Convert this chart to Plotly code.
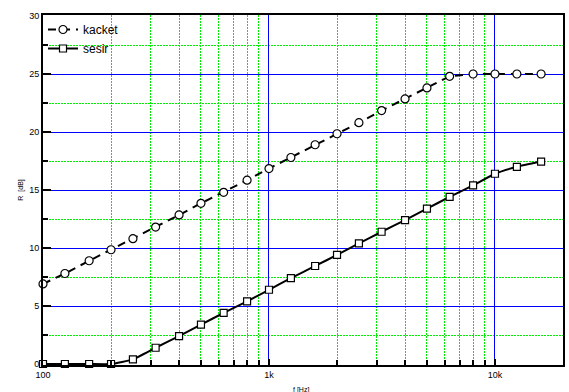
import plotly.graph_objects as go

# third-octave centre frequencies [Hz]
freq = [100, 125, 160, 200, 250, 315, 400, 500, 630, 800, 1000, 1250, 1600,
        2000, 2500, 3150, 4000, 5000, 6300, 8000, 10000, 12500, 16000]

# sound reduction index R [dB]
kacket = [6.9, 7.8, 8.9, 9.85, 10.8, 11.8, 12.85, 13.85, 14.8, 15.85, 16.85, 17.8, 18.9,
          19.85, 20.8, 21.85, 22.85, 23.8, 24.8, 25.0, 25.0, 25.0, 25.0]
sesir = [0.0, 0.0, 0.0, 0.0, 0.4, 1.4, 2.4, 3.4, 4.4, 5.4, 6.4, 7.4, 8.45,
         9.4, 10.4, 11.4, 12.4, 13.4, 14.4, 15.4, 16.4, 17.0, 17.45]

x_tickvals = [100, 1000, 10000]
x_ticktext = ["100", "1k", "10k"]
x_minor = [200, 300, 400, 500, 600, 700, 800, 900,
           2000, 3000, 4000, 5000, 6000, 7000, 8000, 9000]
y_tickvals = [0, 5, 10, 15, 20, 25, 30]
y_minor = [2.5, 7.5, 12.5, 17.5, 22.5, 27.5]

FONT = "Liberation Sans, Arial, sans-serif"
MINOR_GRID = "#00ee00"
MINOR_DASH = "2px,1px"

# 350 px plot height; 11.6 px per dB keeps every 2.5 dB grid line on a whole pixel
Y_PAD = (350 / 11.6 - 30) / 2

fig = go.Figure()
fig.add_trace(go.Scatter(
    x=freq, y=kacket, name="kacket", mode="lines+markers",
    line=dict(color="black", width=2, dash="8px,6px"),
    marker=dict(symbol="circle", size=8, color="white",
                line=dict(color="black", width=1.2)),
    cliponaxis=False,
))
fig.add_trace(go.Scatter(
    x=freq, y=sesir, name="sesir", mode="lines+markers",
    line=dict(color="black", width=2, shape="spline", smoothing=0.4),
    marker=dict(symbol="square", size=7, color="white",
                line=dict(color="black", width=1.2)),
    cliponaxis=False,
))

fig.update_layout(
    width=569, height=392,
    margin=dict(l=43, r=6, t=15, b=27, autoexpand=False),
    paper_bgcolor="white", plot_bgcolor="white",
    font=dict(family=FONT, size=9, color="black"),
    showlegend=True,
    legend=dict(x=0.0, y=1.0, xanchor="left", yanchor="top",
                bgcolor="rgba(0,0,0,0)", font=dict(size=12, family=FONT),
                tracegroupgap=0, itemwidth=30),
    annotations=[
        dict(text="f [Hz]", xref="paper", yref="paper", x=0.497, y=-0.055,
             xanchor="center", yanchor="top", showarrow=False,
             font=dict(size=7)),
        dict(text="R  [dB]", xref="paper", yref="paper", x=-0.043, y=0.5,
             xanchor="center", yanchor="middle", showarrow=False,
             textangle=-90, font=dict(size=7)),
    ],
)

fig.update_xaxes(
    type="log", range=[2, 4.301], automargin=False,
    tickvals=x_tickvals, ticktext=x_ticktext,
    showgrid=True, gridcolor="#0000ff", gridwidth=1,
    ticks="inside", ticklen=6, tickwidth=2, tickcolor="black",
    showline=True, linecolor="black", linewidth=1.5, mirror=True,
    minor=dict(tickvals=x_minor, showgrid=True, gridcolor=MINOR_GRID,
               griddash=MINOR_DASH, gridwidth=1, ticks="inside", ticklen=5,
               tickwidth=2, tickcolor="black"),
    tickfont=dict(size=9),
    zeroline=False,
)

fig.update_yaxes(
    range=[-Y_PAD, 30 + Y_PAD], tickvals=y_tickvals, automargin=False,
    showgrid=True, gridcolor="#0000ff", gridwidth=1,
    ticks="inside", ticklen=8, tickwidth=2, tickcolor="black",
    showline=True, linecolor="black", linewidth=2, mirror=True,
    minor=dict(tickvals=y_minor, showgrid=True, gridcolor=MINOR_GRID,
               griddash=MINOR_DASH, gridwidth=1, ticks="inside", ticklen=5,
               tickwidth=2, tickcolor="black"),
    tickfont=dict(size=9),
    zeroline=False,
)

fig.write_html("out.html")
